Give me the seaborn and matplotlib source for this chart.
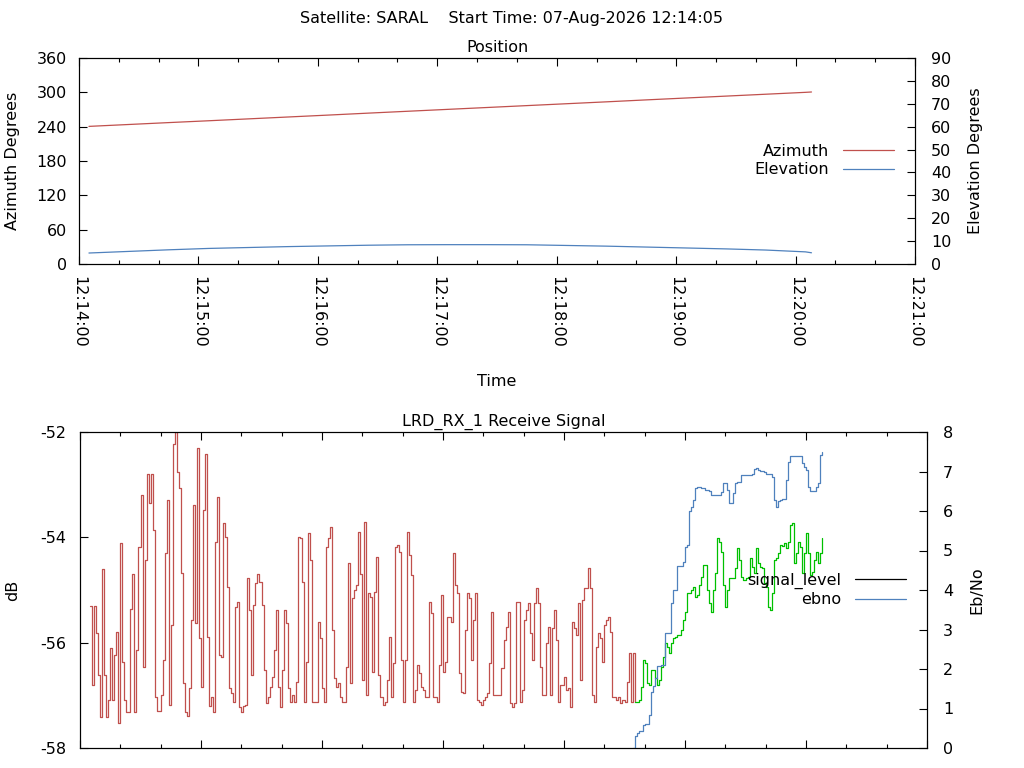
import numpy as np
import pandas as pd
import matplotlib
matplotlib.use("Agg")
import matplotlib.pyplot as plt
from matplotlib.lines import Line2D
from matplotlib.ticker import MultipleLocator, FixedLocator, FixedFormatter
import seaborn as sns

sns.set_style("white")
plt.rcParams["font.family"] = ["DejaVu Sans"]
plt.rcParams["axes.edgecolor"] = "black"
plt.rcParams["axes.linewidth"] = 0.8
plt.rcParams["text.color"] = "black"
plt.rcParams["axes.labelcolor"] = "black"
plt.rcParams["xtick.color"] = "black"
plt.rcParams["ytick.color"] = "black"
plt.rcParams["xtick.labelcolor"] = "black"
plt.rcParams["ytick.labelcolor"] = "black"

# ---------------- data ----------------
title_text = "Satellite: SARAL    Start Time: 07-Aug-2026 12:14:05"
x_tick_pos = [0, 60, 120, 180, 240, 300, 360, 420]   # seconds after 12:14:00
x_tick_labels = ["12:14:00", "12:15:00", "12:16:00", "12:17:00",
                 "12:18:00", "12:19:00", "12:20:00", "12:21:00"]

pos_sec = [5, 25, 45, 65, 85, 105, 125, 145, 165, 185, 205, 225, 245, 265,
           285, 305, 325, 345, 365, 368]
azimuth = [240.5, 243.8, 247.1, 250.3, 253.6, 256.9, 260.2, 263.6, 266.9, 270.2,
           273.5, 276.8, 280.1, 283.4, 286.8, 290.1, 293.4, 296.7, 300.0, 300.6]
elevation = [4.8, 5.5, 6.2, 6.8, 7.2, 7.6, 7.9, 8.2, 8.4, 8.45,
             8.45, 8.4, 8.1, 7.8, 7.4, 7.0, 6.6, 6.1, 5.3, 4.9]

signal_red_start = 5   # seconds after 12:14:00, one sample per second
signal_red = [
    -55.30, -56.80, -55.30, -55.81, -56.61, -57.41, -54.61, -56.61, -57.41, -57.08,
    -56.11, -57.08, -56.23, -55.79, -57.52, -54.11, -56.36, -57.08, -57.31, -57.31,
    -55.37, -54.70, -57.31, -56.14, -54.18, -53.20, -56.46, -54.43, -52.79, -53.35,
    -52.79, -53.86, -57.03, -57.30, -57.30, -56.99, -56.33, -54.30, -53.29, -57.18,
    -55.67, -52.22, -52.00, -52.75, -53.07, -54.68, -56.77, -57.31, -57.39, -56.87,
    -55.57, -53.39, -55.63, -52.31, -55.92, -56.84, -53.48, -52.41, -55.89, -57.20,
    -57.03, -57.31, -54.08, -53.23, -56.23, -56.27, -53.73, -53.99, -54.94, -56.87,
    -56.96, -57.12, -55.32, -55.22, -57.22, -57.31, -57.20, -57.18, -54.78, -55.38,
    -56.61, -55.29, -54.87, -54.70, -54.84, -55.29, -56.52, -57.15, -57.03, -56.84,
    -56.65, -56.14, -55.38, -56.84, -57.22, -56.52, -55.38, -55.63, -56.87, -57.12,
    -56.99, -57.12, -56.74, -53.99, -54.02, -54.84, -57.12, -56.36, -53.92, -54.43,
    -57.12, -57.12, -57.12, -55.60, -55.92, -56.87, -57.12, -54.18, -54.02, -53.80,
    -55.76, -56.68, -56.84, -56.77, -57.03, -57.12, -57.12, -56.46, -54.49, -56.77,
    -55.16, -55.00, -54.90, -53.90, -54.70, -56.71, -53.70, -56.99, -55.06, -55.13,
    -56.55, -55.03, -54.37, -56.61, -57.03, -57.18, -57.12, -56.71, -55.89, -57.03,
    -56.39, -54.18, -54.15, -54.27, -56.33, -57.12, -56.33, -53.89, -54.34, -54.72,
    -57.12, -56.90, -56.42, -56.58, -56.84, -56.90, -57.03, -57.03, -55.22, -55.44,
    -57.03, -57.03, -57.12, -56.42, -55.10, -56.55, -56.36, -55.51, -55.51, -55.60,
    -54.30, -54.91, -55.06, -56.58, -56.93, -56.96, -55.76, -55.06, -55.16, -56.33,
    -55.57, -55.06, -57.09, -57.12, -57.18, -57.09, -57.03, -56.96, -56.39, -55.41,
    -56.99, -56.99, -56.99, -56.99, -56.49, -55.95, -55.70, -55.41, -57.15, -57.22,
    -57.15, -55.22, -55.22, -57.12, -56.90, -55.57, -55.38, -55.25, -55.82, -56.33,
    -55.25, -54.97, -55.25, -56.46, -56.99, -56.99, -56.01, -55.70, -56.99, -55.73,
    -55.38, -55.95, -57.12, -56.80, -56.80, -56.65, -56.90, -56.87, -57.22, -55.60,
    -55.73, -55.85, -55.25, -56.71, -55.19, -54.97, -54.97, -54.59, -54.97, -56.99,
    -57.12, -56.08, -55.82, -55.92, -56.36, -55.67, -55.57, -55.51, -55.79, -57.03,
    -57.03, -57.09, -57.03, -57.15, -57.09, -57.12, -56.74, -56.20, -57.12, -56.20,
    -57.12,
]

signal_green_start = 275
signal_green = [
    -57.12, -57.12, -57.09, -56.84, -56.33, -56.39, -56.77, -56.80, -56.52, -56.52,
    -56.68, -56.80, -56.71, -56.46, -56.27, -56.01, -56.08, -56.20, -56.01, -55.92,
    -55.89, -55.85, -55.85, -55.76, -55.57, -55.41, -55.06, -55.06, -55.00, -54.94,
    -55.13, -55.10, -54.91, -54.75, -54.53, -54.53, -55.00, -55.25, -55.41, -55.00,
    -54.68, -54.02, -54.08, -54.27, -54.91, -55.32, -55.00, -54.78, -54.78, -54.78,
    -54.59, -54.21, -54.43, -54.75, -54.81, -54.78, -54.75, -54.40, -54.56, -54.68,
    -54.21, -54.49, -54.56, -54.59, -54.87, -54.94, -55.32, -55.38, -55.06, -54.43,
    -54.40, -54.30, -54.15, -54.17, -54.11, -54.21, -54.08, -53.77, -53.73, -54.49,
    -54.30, -54.08, -54.18, -54.68, -54.30, -53.92, -54.30, -54.72, -54.65, -54.43,
    -54.27, -54.49, -54.30, -54.02,
]

ebno_start = 274
ebno = [
    0.00, 0.30, 0.38, 0.42, 0.42, 0.59, 0.61, 0.61, 0.84, 1.43,
    1.56, 1.77, 2.07, 2.08, 2.10, 2.11, 2.91, 2.91, 2.91, 3.67,
    4.01, 4.01, 4.60, 4.60, 4.60, 4.72, 5.10, 5.14, 5.99, 6.10,
    6.28, 6.58, 6.60, 6.60, 6.59, 6.58, 6.52, 6.52, 6.50, 6.40,
    6.40, 6.40, 6.40, 6.40, 6.49, 6.70, 6.70, 6.53, 6.21, 6.21,
    6.45, 6.72, 6.73, 6.73, 6.90, 6.91, 6.91, 6.91, 6.91, 6.93,
    7.07, 7.08, 7.04, 7.02, 7.02, 6.98, 6.93, 6.93, 6.93, 6.87,
    6.28, 6.11, 6.26, 6.29, 6.30, 6.31, 6.79, 7.25, 7.39, 7.39,
    7.39, 7.39, 7.39, 7.39, 7.21, 7.11, 7.04, 6.62, 6.50, 6.50,
    6.50, 6.60, 6.70, 7.42, 7.49,
]

RED = "#c0504d"
BLUE = "#4f81bd"
GREEN = "#00c000"
FS = 11.5
LW = 0.9

# ---------------- figure ----------------
W, H = 1024, 768
fig = plt.figure(figsize=(W / 100, H / 100), dpi=100)
fig.patch.set_facecolor("white")


def fx(px):
    return px / W


def fy(py):
    return 1 - py / H


ax1 = fig.add_axes([fx(79), fy(264), fx(915 - 79), (264 - 58) / H])
ax3 = fig.add_axes([fx(80), fy(748), fx(927 - 80), (748 - 432) / H])

line_kw = dict(linewidth=LW, estimator=None, legend=False)

# ---- top: position ----
sns.lineplot(x=pos_sec, y=azimuth, ax=ax1, color=RED, **line_kw)
ax2 = ax1.twinx()
sns.lineplot(x=pos_sec, y=elevation, ax=ax2, color=BLUE, **line_kw)

ax1.set_xlim(0, 420)
ax1.set_ylim(0, 360)
ax2.set_ylim(0, 90)
ax1.yaxis.set_major_locator(FixedLocator([0, 60, 120, 180, 240, 300, 360]))
ax2.yaxis.set_major_locator(MultipleLocator(10))
ax1.xaxis.set_major_locator(FixedLocator(x_tick_pos))
ax1.xaxis.set_major_formatter(FixedFormatter(x_tick_labels))
ax1.xaxis.set_minor_locator(MultipleLocator(20))
ax1.set_xlabel("")
ax1.set_ylabel("")
ax2.set_ylabel("")

ax1.tick_params(axis="x", which="both", direction="in", top=True, bottom=True,
                labelsize=FS, pad=9, labelrotation=-90, color="black")
ax1.tick_params(axis="x", which="major", length=5.5, width=0.8)
ax1.tick_params(axis="x", which="minor", length=3, width=0.8)
ax1.tick_params(axis="y", which="major", direction="in", length=5.5, width=0.8,
                labelsize=FS, pad=8.6, left=True, right=False)
ax2.tick_params(axis="y", which="major", direction="in", length=5.5, width=0.8,
                labelsize=FS, pad=11.5, right=True, left=False)
for lab in ax1.get_xticklabels():
    lab.set_va("top")
    lab.set_ha("center")

# ---- bottom: receive signal ----
red_t = np.arange(signal_red_start, signal_red_start + len(signal_red))
green_t = np.arange(signal_green_start, signal_green_start + len(signal_green))
ebno_t = np.arange(ebno_start, ebno_start + len(ebno))

sns.lineplot(x=red_t, y=signal_red, ax=ax3, color=RED, drawstyle="steps-post",
             **line_kw)
sns.lineplot(x=green_t, y=signal_green, ax=ax3, color=GREEN,
             drawstyle="steps-post", **line_kw)
ax4 = ax3.twinx()
sns.lineplot(x=ebno_t, y=ebno, ax=ax4, color=BLUE, drawstyle="steps-post",
             **line_kw)

ax3.set_xlim(0, 420)
ax3.set_ylim(-58, -52)
ax4.set_ylim(0, 8)
ax3.yaxis.set_major_locator(FixedLocator([-58, -56, -54, -52]))
ax4.yaxis.set_major_locator(MultipleLocator(1))
ax3.xaxis.set_major_locator(FixedLocator(x_tick_pos))
ax3.xaxis.set_minor_locator(MultipleLocator(20))
ax3.set_xlabel("")
ax3.set_ylabel("")
ax4.set_ylabel("")
ax3.tick_params(axis="x", which="both", direction="in", top=True, bottom=True,
                labelbottom=False, color="black")
ax3.tick_params(axis="x", which="major", length=5.5, width=0.8)
ax3.tick_params(axis="x", which="minor", length=3, width=0.8)
ax3.tick_params(axis="y", which="major", direction="in", length=5.5, width=0.8,
                labelsize=FS, pad=9.8, left=True, right=False)
ax4.tick_params(axis="y", which="major", direction="in", length=5.5, width=0.8,
                labelsize=FS, pad=11.5, right=True, left=False)
ax3.yaxis.set_major_formatter(plt.FuncFormatter(lambda v, p: f"{v:.0f}"))

for a in (ax1, ax2, ax3, ax4):
    for s in a.spines.values():
        s.set_color("black")
        s.set_linewidth(0.8)

# ---- texts ----
fig.text(0.5, fy(23.3), title_text, ha="center", va="baseline", fontsize=FS)
fig.text(fx(497), fy(52.3), "Position", ha="center", va="baseline", fontsize=FS)
fig.text(fx(503.5), fy(426), "LRD_RX_1 Receive Signal", ha="center",
         va="baseline", fontsize=FS)
fig.text(fx(497), fy(386), "Time", ha="center", va="baseline", fontsize=FS)
fig.text(fx(13), fy(161), "Azimuth Degrees", rotation=90, ha="center",
         va="center", fontsize=FS)
fig.text(fx(975.5), fy(161), "Elevation Degrees", rotation=90, ha="center",
         va="center", fontsize=FS)
fig.text(fx(13), fy(590), "dB", rotation=90, ha="center", va="center", fontsize=FS)
fig.text(fx(977), fy(590), "Eb/No", rotation=90, ha="center", va="center",
         fontsize=FS)

# ---- legends ----
h_top = [Line2D([], [], color=RED, lw=LW), Line2D([], [], color=BLUE, lw=LW)]
fig.legend(h_top, ["Azimuth", "Elevation"], loc="center right",
           bbox_to_anchor=(fx(894), fy(160.5)), frameon=False, markerfirst=False,
           handlelength=3.2, handletextpad=0.87, labelspacing=0.22, borderpad=0,
           borderaxespad=0, fontsize=FS)
h_bot = [Line2D([], [], color="black", lw=LW), Line2D([], [], color=BLUE, lw=LW)]
fig.legend(h_bot, ["signal_level", "ebno"], loc="center right",
           bbox_to_anchor=(fx(906), fy(590)), frameon=False, markerfirst=False,
           handlelength=3.2, handletextpad=0.87, labelspacing=0.22, borderpad=0,
           borderaxespad=0, fontsize=FS)

fig.savefig("out.png", dpi=100, facecolor="white")
